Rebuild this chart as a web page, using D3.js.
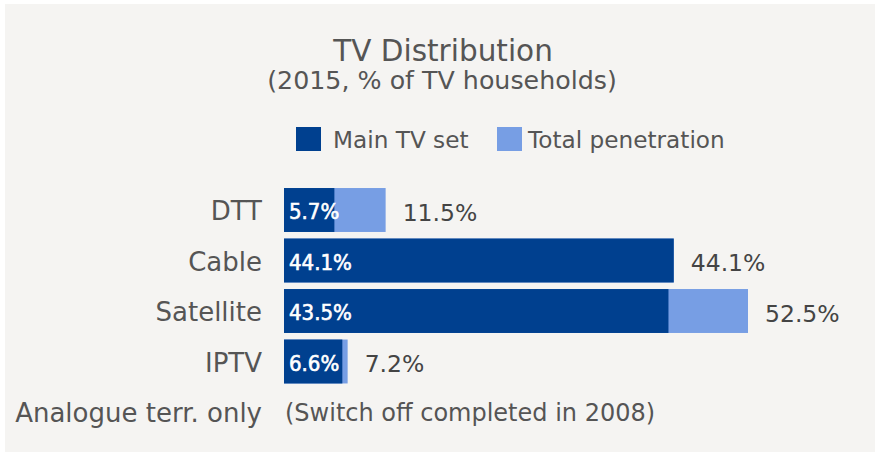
<!DOCTYPE html>
<html>
<head>
<meta charset="utf-8">
<script src="https://cdn.jsdelivr.net/npm/d3@7"></script>
<style>
  body { margin: 0; background: #fff; }
  svg { display: block; font-family: "DejaVu Sans", sans-serif; }
</style>
</head>
<body>
<div id="chart"></div>
<script>
// Data
const categories = ["DTT", "Cable", "Satellite", "IPTV", "Analogue terr. only"];
const mainSet = [5.7, 44.1, 43.5, 6.6, null];
const totalPen = [11.5, 44.1, 52.5, 7.2, null];
const notes = ["", "", "", "", "(Switch off completed in 2008)"];
const legendLabels = ["Main TV set", "Total penetration"];

const width = 875, height = 452;
const darkBlue = "#00408f", lightBlue = "#779ee4";
const textColor = "#555";

const rows = categories.map((c, i) => ({cat: c, main: mainSet[i], total: totalPen[i], note: notes[i]}));

const svg = d3.select("#chart").append("svg")
    .attr("width", width)
    .attr("height", height);

// panel background
svg.append("rect")
    .attr("x", 5).attr("y", 4)
    .attr("width", width - 5).attr("height", height - 4)
    .attr("fill", "#f5f4f2");

// Title
svg.append("text")
    .attr("x", 443).attr("y", 61)
    .attr("text-anchor", "middle")
    .attr("font-size", 29.5)
    .attr("fill", textColor)
    .text("TV Distribution");
svg.append("text")
    .attr("x", 442).attr("y", 89)
    .attr("text-anchor", "middle")
    .attr("font-size", 25.3)
    .attr("fill", textColor)
    .text("(2015, % of TV households)");

// Scales
const x = d3.scaleLinear().domain([0, 52.5]).range([284, 748]);
const y = d3.scaleBand().domain(categories).range([184.75, 437.25])
    .paddingInner(0.13).paddingOuter(0.065);

// Legend
const legend = svg.append("g");
const legendX = [296, 497];
legend.selectAll("rect")
    .data(legendLabels)
    .join("rect")
    .attr("x", (d, i) => legendX[i])
    .attr("y", 127)
    .attr("width", 25).attr("height", 24)
    .attr("fill", (d, i) => i === 0 ? darkBlue : lightBlue);
legend.selectAll("text")
    .data(legendLabels)
    .join("text")
    .attr("x", (d, i) => legendX[i] + (i === 0 ? 37 : 31))
    .attr("y", 148)
    .attr("font-size", 23.2)
    .attr("fill", textColor)
    .text(d => d);

// Bars
const barRows = rows.filter(d => d.total != null);
const g = svg.append("g");

g.selectAll("rect.total")
    .data(barRows)
    .join("rect")
    .attr("class", "total")
    .attr("x", x(0))
    .attr("y", d => y(d.cat))
    .attr("width", d => x(d.total) - x(0))
    .attr("height", y.bandwidth())
    .attr("fill", lightBlue);

g.selectAll("rect.main")
    .data(barRows)
    .join("rect")
    .attr("class", "main")
    .attr("x", x(0))
    .attr("y", d => y(d.cat))
    .attr("width", d => x(d.main) - x(0))
    .attr("height", y.bandwidth())
    .attr("fill", darkBlue);

// value labels inside
g.selectAll("text.inner")
    .data(barRows)
    .join("text")
    .attr("class", "inner")
    .attr("x", x(0) + 5)
    .attr("y", d => y(d.cat) + y.bandwidth() / 2 + 9)
    .attr("font-family", "'DejaVu Sans Condensed', 'DejaVu Sans', sans-serif")
    .attr("font-size", 22)
    .attr("fill", "#fff")
    .attr("stroke", "#fff")
    .attr("stroke-width", 0.6)
    .text(d => d.main.toFixed(1) + "%");

// value labels outside
g.selectAll("text.outer")
    .data(barRows)
    .join("text")
    .attr("class", "outer")
    .attr("x", d => x(d.total) + 17)
    .attr("y", d => y(d.cat) + y.bandwidth() / 2 + 10.5)
    .attr("font-size", 23.5)
    .attr("fill", "#444")
    .text(d => d.total.toFixed(1) + "%");

// category labels
svg.selectAll("text.cat")
    .data(rows)
    .join("text")
    .attr("class", "cat")
    .attr("x", 262)
    .attr("y", d => y(d.cat) + y.bandwidth() / 2 + 10)
    .attr("text-anchor", "end")
    .attr("font-size", 26)
    .attr("fill", textColor)
    .text(d => d.cat);

// notes
svg.selectAll("text.note")
    .data(rows.filter(d => d.note))
    .join("text")
    .attr("class", "note")
    .attr("x", 285)
    .attr("y", d => y(d.cat) + y.bandwidth() / 2 + 9)
    .attr("font-size", 24)
    .attr("fill", textColor)
    .text(d => d.note);
</script>
</body>
</html>
